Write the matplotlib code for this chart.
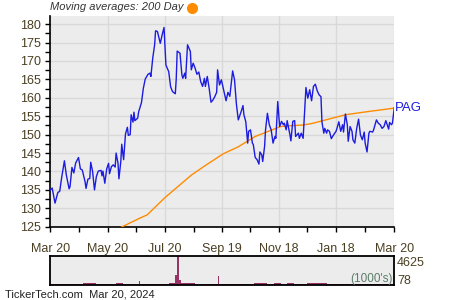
import matplotlib
matplotlib.use("Agg")
import matplotlib.pyplot as plt
from matplotlib.lines import Line2D

plt.rcParams['font.family'] = ['Liberation Sans', 'DejaVu Sans']

# days since Mar 20, 2023
price_days = [0, 2, 5, 8, 10, 12, 15, 17, 20, 21, 23, 25, 27, 30, 32, 34, 37, 38, 40, 42,
              43, 45, 47, 49, 51, 54, 55, 56, 58, 60, 62, 63, 65, 67, 69, 70, 72, 73, 75, 76,
              78, 80, 82, 83, 85, 86, 88, 89, 90, 93, 94, 97, 99, 101, 104, 106, 107, 109, 111, 112,
              114, 117, 119, 121, 123, 126, 128, 130, 133, 134, 135, 138, 140, 141, 143, 144, 146, 149, 150, 152,
              154, 156, 158, 160, 162, 164, 165, 167, 169, 171, 173, 175, 177, 178, 180, 182, 184, 187, 189, 191,
              194, 196, 198, 200, 203, 205, 206, 208, 210, 211, 213, 215, 216, 218, 220, 222, 223, 225, 226, 228,
              229, 231, 233, 235, 237, 239, 240, 242, 244, 246, 248, 249, 251, 252, 254, 255, 256, 258, 260, 261,
              264, 265, 267, 269, 271, 272, 274, 276, 278, 280, 282, 284, 286, 288, 289, 291, 292, 294, 295, 297,
              299, 301, 304, 305, 307, 309, 311, 312, 314, 316, 317, 319, 321, 322, 324, 326, 328, 330, 332, 334,
              335, 337, 339, 340, 343, 344, 347, 349, 351, 353, 355, 357, 360, 361, 363, 364, 366]
price = [135.0, 135.5, 131.4, 134.3, 134.6, 138.2, 142.9, 139.1, 135.3, 135.9, 141.1, 139.6, 142.3, 143.8, 140.7, 140.4, 137.2, 135.4, 137.9, 138.1,
         142.5, 140.0, 135.0, 138.6, 140.1, 140.3, 138.8, 140.1, 136.8, 140.7, 142.2, 139.4, 141.3, 141.8, 141.2, 145.0, 142.3, 138.0, 142.7, 147.4,
         143.2, 150.2, 152.0, 149.8, 150.0, 155.4, 153.4, 156.1, 153.8, 154.5, 156.2, 158.7, 162.6, 165.1, 166.4, 166.7, 165.8, 170.8, 174.4, 178.2,
         178.0, 174.8, 177.1, 179.1, 168.9, 167.1, 163.0, 161.7, 161.1, 165.2, 172.7, 172.1, 166.2, 165.3, 166.7, 165.3, 174.4, 172.6, 167.6, 169.4,
         168.1, 166.4, 167.0, 164.4, 163.1, 165.3, 163.1, 165.8, 162.6, 158.8, 159.4, 160.3, 161.5, 167.6, 163.5, 164.9, 162.6, 159.2, 161.5, 160.4,
         167.3, 164.9, 158.3, 154.0, 156.2, 157.9, 155.4, 153.5, 147.7, 150.9, 151.3, 147.7, 147.3, 143.8, 143.2, 142.0, 145.3, 144.5, 142.7, 146.8,
         151.3, 155.8, 152.7, 151.3, 147.7, 149.5, 149.0, 159.0, 152.2, 153.6, 152.7, 153.1, 151.3, 153.8, 151.3, 149.9, 148.3, 153.6, 153.8, 149.5,
         150.4, 149.0, 150.4, 149.0, 158.3, 162.8, 159.9, 162.2, 159.2, 163.1, 163.7, 161.9, 160.8, 160.3, 153.5, 150.4, 151.7, 150.4, 151.3, 150.9,
         148.9, 149.8, 150.9, 151.7, 153.5, 150.9, 152.7, 150.7, 155.6, 152.7, 148.2, 152.2, 150.9, 148.6, 147.7, 151.7, 154.2, 149.9, 148.6, 150.7,
         147.7, 145.3, 150.4, 150.9, 150.7, 151.3, 154.0, 153.1, 152.7, 151.7, 152.2, 153.8, 151.5, 153.3, 152.7, 153.1, 157.3]

ma_days = [75, 95, 103, 122, 150, 166, 184, 200, 218, 236, 245, 254, 268, 278, 293, 314, 339, 366]
ma200 = [124.8, 127.3, 128.2, 132.9, 139.0, 141.8, 144.8, 146.7, 149.5, 151.3, 152.2, 152.4, 152.6, 153.0, 154.0, 155.4, 156.3, 157.2]

vol_week_days = [i * 7 for i in range(53)]
vol_week = [280, 240, 220, 290, 230, 340, 370, 240, 290, 230, 320, 300, 270, 260, 240, 160, 270, 230, 340, 360,
            400, 330, 240, 230, 220, 220, 230, 240, 270, 290, 260, 340, 320, 300, 340, 280, 370, 260, 250, 340,
            320, 350, 270, 240, 220, 230, 210, 270, 290, 240, 260, 280, 300]
spike_days = [95, 134, 136, 138, 179]
spike_vol = [660, 1600, 4625, 800, 1450]

xtick_days = [0, 61, 122, 183, 243, 304, 366]
xtick_labels = ["Mar 20", "May 20", "Jul 20", "Sep 19", "Nov 18", "Jan 18", "Mar 20"]
xminor_days = [30.5, 91.5, 152.5, 213, 273.5, 335]

bg = "#ececec"
grid_c = "#d9d9d9"
txt_c = "#4a3f22"

fig = plt.figure(figsize=(4.5, 3.0), dpi=100)
ax = fig.add_axes([0.1118, 0.2443, 0.7644, 0.7034])
ax.set_facecolor(bg)
ax.plot(ma_days, ma200, color="#ff8c00", lw=1.0, zorder=3)
ax.plot(price_days, price, color="#1c1ce0", lw=1.0, zorder=4)
ax.set_xlim(0, 366)
ax.set_ylim(125, 182.3)
ax.set_yticks(range(125, 181, 5))
ax.set_yticks([127.5 + 5 * i for i in range(11)], minor=True)
ax.set_xticks(xtick_days)
ax.set_xticklabels(xtick_labels)
ax.set_xticks(xminor_days, minor=True)
ax.grid(True, which="major", color=grid_c, lw=1.0)
ax.set_axisbelow(True)
for s in ["top", "right"]:
    ax.spines[s].set_visible(False)
for s in ["left", "bottom"]:
    ax.spines[s].set_linewidth(1.2)
ax.tick_params(which="both", direction="out", length=3.5, width=1, colors="black",
               labelcolor=txt_c, labelsize=9)
ax.tick_params(axis="x", pad=8)
ax.text(367, price[-1], "PAG", color="#1c1ce0", fontsize=9.5, va="center", ha="left",
        transform=ax.transData, clip_on=False)

fig.text(0.111, 0.977, "Moving averages: 200 Day", fontsize=8, style="italic",
         color="#333333", va="center", ha="left")
fig.add_artist(Line2D([0.426], [0.975], transform=fig.transFigure, marker="o",
                      markersize=7, color="#ff8c00", linestyle="none"))

axv = fig.add_axes([0.1118, 0.05, 0.7644, 0.0967])
axv.set_facecolor(bg)
axv.bar(vol_week_days, vol_week, width=7, align="edge", color="#993366", linewidth=0)
axv.bar(spike_days, spike_vol, width=1.6, color="#993366", linewidth=0)
axv.set_xlim(0, 366)
axv.set_ylim(78, 4625)
axv.set_xticks([])
axv.set_yticks([])
for s in axv.spines.values():
    s.set_linewidth(1.3)
fig.text(0.882, 0.125, "4625", fontsize=9, color=txt_c, va="center", ha="left")
fig.text(0.882, 0.062, "78", fontsize=9, color=txt_c, va="center", ha="left")
axv.text(0.995, 0.2, "(1000's)", transform=axv.transAxes, fontsize=8.5,
         color="#5b7d6a", ha="right", va="center")

fig.text(0.011, 0.019, "TickerTech.com  Mar 20, 2024", fontsize=8, color="#222222",
         va="center", ha="left")

fig.savefig("out.png", dpi=100)
